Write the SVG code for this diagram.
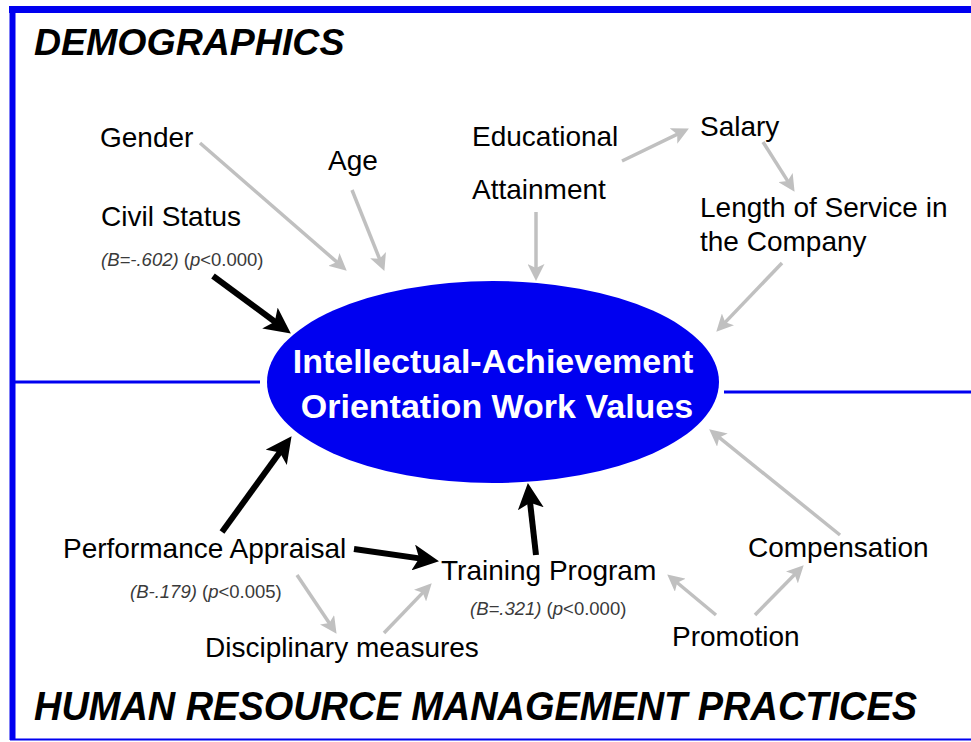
<svg xmlns="http://www.w3.org/2000/svg" width="971" height="742" viewBox="0 0 971 742">
  <style>
    .lbl { font-family: "Liberation Sans", Arial, sans-serif; font-size: 28px; fill: #000; }
    .stat { font-family: "Liberation Sans", Arial, sans-serif; font-size: 18.5px; fill: #3a3a3a; }
    .it { font-style: italic; }
    .title { font-family: "Liberation Sans", Arial, sans-serif; font-weight: bold; font-style: italic; fill: #000; }
    .core { font-family: "Liberation Sans", Arial, sans-serif; font-weight: bold; font-size: 34px; fill: #fff; }
    .frame { stroke: #0000f0; fill: none; }
    .strong { stroke: #000; stroke-width: 6; fill: none; marker-end: url(#headBlack); }
    .weak { stroke: #c0c0c0; stroke-width: 3.5; fill: none; marker-end: url(#headGray); }
  </style>
  <defs>
    <marker id="headBlack" viewBox="0 0 26 26" refX="15" refY="13" markerWidth="26" markerHeight="26" markerUnits="userSpaceOnUse" orient="auto">
      <path d="M26,13 L0,0 L6,13 L0,26 Z" fill="#000"/>
    </marker>
    <marker id="headGray" viewBox="0 0 17 17" refX="9" refY="8.5" markerWidth="17" markerHeight="17" markerUnits="userSpaceOnUse" orient="auto">
      <path d="M17,8.5 L0,0 L4,8.5 L0,17 Z" fill="#c0c0c0"/>
    </marker>
  </defs>

  <rect width="971" height="742" fill="#fff"/>

  <!-- frame and section divider -->
  <g id="frame">
    <line class="frame" x1="9" y1="9.5" x2="971" y2="9.5" stroke-width="7"/>
    <line class="frame" x1="12.5" y1="6" x2="12.5" y2="740" stroke-width="6"/>
    <line class="frame" x1="10" y1="739.5" x2="971" y2="739.5" stroke-width="2"/>
    <line class="frame" x1="14" y1="382" x2="260" y2="382" stroke-width="3"/>
    <line class="frame" x1="724" y1="392" x2="971" y2="392" stroke-width="3"/>
  </g>

  <!-- section titles -->
  <g id="title-demographics">
    <text class="title" x="34" y="55" font-size="37.5">DEMOGRAPHICS</text>
  </g>
  <g id="title-hrm">
    <text class="title" x="34" y="720" font-size="40" textLength="883" lengthAdjust="spacingAndGlyphs">HUMAN RESOURCE MANAGEMENT PRACTICES</text>
  </g>

  <!-- connectors -->
  <g id="connectors">
    <line class="weak" x1="200" y1="143" x2="340.7" y2="265.4"/>
    <line class="weak" x1="352" y1="190" x2="381.4" y2="263.5"/>
    <line class="weak" x1="536" y1="212" x2="536" y2="273"/>
    <line class="weak" x1="622" y1="161" x2="681.7" y2="132.1"/>
    <line class="weak" x1="763" y1="142" x2="790.3" y2="185.1"/>
    <line class="weak" x1="782" y1="263" x2="721.8" y2="325.9"/>
    <line class="weak" x1="840" y1="535" x2="715.4" y2="434.4"/>
    <line class="weak" x1="716" y1="615" x2="673.4" y2="579.5"/>
    <line class="weak" x1="755" y1="615" x2="798.1" y2="571"/>
    <line class="weak" x1="297" y1="575" x2="332.1" y2="627.2"/>
    <line class="weak" x1="384" y1="633" x2="426.2" y2="589.1"/>
    <line class="strong" x1="213" y1="276" x2="282" y2="327"/>
    <line class="strong" x1="222" y1="532" x2="285.1" y2="445.1"/>
    <line class="strong" x1="536" y1="555" x2="529.1" y2="493.9"/>
    <line class="strong" x1="354" y1="549" x2="428.1" y2="559.6"/>
  </g>

  <!-- central construct -->
  <g id="work-values">
    <ellipse cx="493" cy="382" rx="226" ry="101" fill="#0000f0"/>
    <text class="core" x="493" y="373" text-anchor="middle">Intellectual-Achievement</text>
    <text class="core" x="497" y="418" text-anchor="middle">Orientation Work Values</text>
  </g>

  <!-- demographic variables -->
  <g id="gender"><text class="lbl" x="100" y="147">Gender</text></g>
  <g id="age"><text class="lbl" x="328" y="170">Age</text></g>
  <g id="education">
    <text class="lbl" x="472" y="146">Educational</text>
    <text class="lbl" x="472" y="199">Attainment</text>
  </g>
  <g id="salary"><text class="lbl" x="700" y="136">Salary</text></g>
  <g id="length-of-service">
    <text class="lbl" x="700" y="217">Length of Service in</text>
    <text class="lbl" x="700" y="251">the Company</text>
  </g>
  <g id="civil-status">
    <text class="lbl" x="101" y="226">Civil Status</text>
    <text class="stat" x="101" y="266"><tspan class="it">(B=-.602)</tspan> (<tspan class="it">p</tspan>&lt;0.000)</text>
  </g>

  <!-- HRM practices -->
  <g id="performance-appraisal">
    <text class="lbl" x="63" y="558">Performance Appraisal</text>
    <text class="stat" x="130" y="598"><tspan class="it">(B-.179)</tspan> (<tspan class="it">p</tspan>&lt;0.005)</text>
  </g>
  <g id="training-program">
    <text class="lbl" x="441" y="580">Training Program</text>
    <text class="stat" x="470" y="615"><tspan class="it">(B=.321)</tspan> (<tspan class="it">p</tspan>&lt;0.000)</text>
  </g>
  <g id="disciplinary-measures"><text class="lbl" x="205" y="657">Disciplinary measures</text></g>
  <g id="compensation"><text class="lbl" x="748" y="557">Compensation</text></g>
  <g id="promotion"><text class="lbl" x="672" y="646">Promotion</text></g>
</svg>
